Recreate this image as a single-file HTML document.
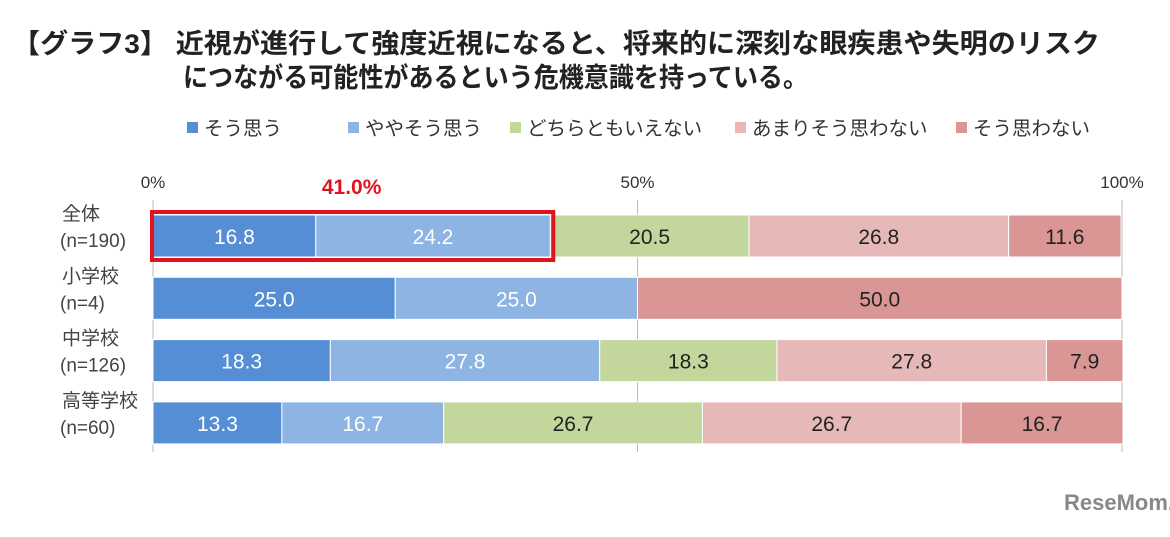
<!DOCTYPE html>
<html><head><meta charset="utf-8"><style>
body{margin:0;background:#fff;width:1170px;height:532px;overflow:hidden;font-family:"Liberation Sans","Noto Sans CJK JP",sans-serif;}
</style></head><body>
<svg width="1170" height="532" xmlns="http://www.w3.org/2000/svg" font-family="Liberation Sans, Noto Sans CJK JP, sans-serif">
<text x="12" y="53" font-size="27" font-weight="bold" fill="#222" textLength="1088" lengthAdjust="spacingAndGlyphs">【グラフ3】 近視が進行して強度近視になると、将来的に深刻な眼疾患や失明のリスク</text>
<text x="183" y="87" font-size="27" font-weight="bold" fill="#222" textLength="625" lengthAdjust="spacingAndGlyphs">につながる可能性があるという危機意識を持っている。</text>
<g id="legend"></g>
<g id="chart"></g>
<text x="1064" y="510" font-size="22" font-weight="bold" fill="#888">ReseMom.</text>
</svg>
<script>
const categories=["全体","小学校","中学校","高等学校"];
const nLabels=["(n=190)","(n=4)","(n=126)","(n=60)"];
const seriesNames=["そう思う","ややそう思う","どちらともいえない","あまりそう思わない","そう思わない"];
const s1=[16.8,25.0,18.3,13.3];
const s2=[24.2,25.0,27.8,16.7];
const s3=[20.5,0,18.3,26.7];
const s4=[26.8,0,27.8,26.7];
const s5=[11.6,50.0,7.9,16.7];
const tickLabels=["0%","50%","100%"];
const tickVals=[0,50,100];
const highlightLabel="41.0%";
const colors=["#558ed5","#8db4e2","#c3d69b","#e6b9b8","#d99694"];
const textColors=["#fff","#fff","#222","#222","#222"];
const NS="http://www.w3.org/2000/svg";
const x0=153,x1=1122;
const xs=v=>x0+(x1-x0)*v/100;
const rowY=i=>215+i*62.3, bh=42;
const chart=document.getElementById('chart');
function mk(t,a,p){const e=document.createElementNS(NS,t);for(const k in a)e.setAttribute(k,a[k]);(p||chart).appendChild(e);return e;}
const lg=document.getElementById('legend');
const lx=[187,348,510,735,956];
seriesNames.forEach((n,i)=>{
  const r=mk('rect',{x:lx[i],y:122,width:11,height:11,fill:colors[i]},lg);
  
  
  const t=mk('text',{x:lx[i]+17,y:135,'font-size':19.5,fill:'#333'},lg);t.textContent=n;
  
  
});
tickVals.forEach((v,i)=>{
  const t=mk('text',{x:xs(v),y:188,'font-size':17,fill:'#333','text-anchor':'middle'});t.textContent=tickLabels[i];
  
  
  const l=mk('line',{x1:xs(v),x2:xs(v),y1:200,y2:452,stroke:'#bbb','stroke-width':1});
  
  
});
const series=[s1,s2,s3,s4,s5];
categories.forEach((c,i)=>{
  const y=rowY(i);
  const t1=mk('text',{x:62,y:y+5,'font-size':19,fill:'#444'});t1.textContent=c;
  
  
  const t2=mk('text',{x:60,y:y+32,'font-size':19,fill:'#444'});t2.textContent=nLabels[i];
  
  
  let acc=0;
  series.forEach((s,j)=>{
    const v=s[i];if(!v)return;
    const r=mk('rect',{x:xs(acc),y:y,width:xs(acc+v)-xs(acc),height:bh,fill:colors[j],stroke:'#fff','stroke-width':1});
    
    
    const t=mk('text',{x:(xs(acc)+xs(acc+v))/2,y:y+29,'font-size':21,fill:textColors[j],'text-anchor':'middle'});
    t.textContent=v.toFixed(1);
    
    
    acc+=v;
  });
});
const hv=s1[0]+s2[0];
const h=mk('rect',{x:x0-1,y:rowY(0)-3,width:xs(hv)-x0+4,height:bh+6,fill:'none',stroke:'#e0141e','stroke-width':4});


const ht=mk('text',{x:(x0+xs(hv))/2,y:194,'font-size':21,'font-weight':'bold',fill:'#e0141e','text-anchor':'middle'});
ht.textContent=highlightLabel;


</script>
</body></html>
